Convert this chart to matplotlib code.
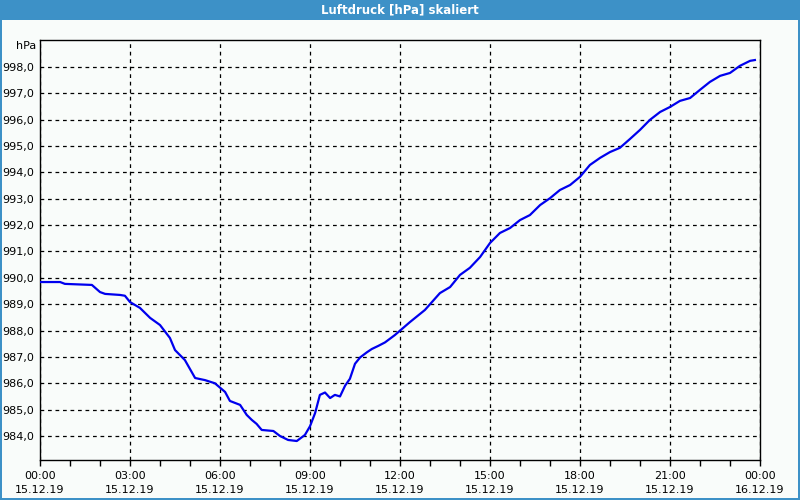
import matplotlib
matplotlib.use("Agg")
import matplotlib.pyplot as plt
from matplotlib.patches import Rectangle

# Time in hours since 15.12.19 00:00
hours = [0.0, 0.67, 0.83, 1.73, 2.0, 2.17, 2.67, 2.83, 3.0, 3.33, 3.67, 4.0, 4.33, 4.5,
         4.83, 5.17, 5.5, 5.83, 6.17, 6.33, 6.67, 6.89, 7.06, 7.22, 7.39, 7.78, 8.0,
         8.27, 8.56, 8.83, 9.0, 9.17, 9.33, 9.5, 9.67, 9.83, 10.0, 10.17, 10.33, 10.5,
         10.67, 10.89, 11.06, 11.28, 11.5, 11.83, 12.33, 12.83, 13.33, 13.67, 14.0,
         14.33, 14.67, 15.0, 15.33, 15.67, 16.0, 16.33, 16.67, 17.0, 17.33, 17.67,
         18.0, 18.33, 18.67, 19.0, 19.33, 19.67, 20.0, 20.33, 20.67, 21.0, 21.33,
         21.67, 22.0, 22.33, 22.67, 23.0, 23.33, 23.67, 23.83]
pressure = [989.84, 989.84, 989.77, 989.73, 989.46, 989.39, 989.35, 989.32, 989.08,
            988.86, 988.48, 988.21, 987.72, 987.26, 986.88, 986.20, 986.12, 986.00,
            985.67, 985.33, 985.18, 984.80, 984.61, 984.46, 984.23, 984.19, 984.00,
            983.85, 983.81, 984.04, 984.37, 984.87, 985.56, 985.65, 985.44, 985.56,
            985.50, 985.91, 986.17, 986.74, 986.98, 987.17, 987.30, 987.42, 987.55,
            987.83, 988.32, 988.78, 989.42, 989.65, 990.11, 990.38, 990.79, 991.32,
            991.70, 991.89, 992.19, 992.38, 992.76, 993.02, 993.33, 993.52, 993.83,
            994.28, 994.55, 994.77, 994.93, 995.27, 995.61, 995.99, 996.29, 996.48,
            996.71, 996.82, 997.13, 997.43, 997.66, 997.77, 998.04, 998.23, 998.26]

x_major = [0, 3, 6, 9, 12, 15, 18, 21, 24]
x_labels = ["00:00\n15.12.19", "03:00\n15.12.19", "06:00\n15.12.19", "09:00\n15.12.19",
            "12:00\n15.12.19", "15:00\n15.12.19", "18:00\n15.12.19", "21:00\n15.12.19",
            "00:00\n16.12.19"]
y_major = [984, 985, 986, 987, 988, 989, 990, 991, 992, 993, 994, 995, 996, 997, 998]
y_labels = [f"{v},0" for v in y_major]
title = "Luftdruck [hPa] skaliert"
unit = "hPa"

W, H = 800, 500
bg = "#f9fcfa"
blue_bar = "#3d91c7"

fig = plt.figure(figsize=(W / 100, H / 100), dpi=100, facecolor=bg)

# title bar and frame
fig.add_artist(Rectangle((0, (H - 20) / H), 1, 20 / H, transform=fig.transFigure,
                         facecolor=blue_bar, edgecolor="none", zorder=0))
fig.add_artist(Rectangle((0, 0), 2 / W, 1, transform=fig.transFigure,
                         facecolor=blue_bar, edgecolor="none"))
fig.add_artist(Rectangle((1 - 2 / W, 0), 2 / W, 1, transform=fig.transFigure,
                         facecolor=blue_bar, edgecolor="none"))
fig.add_artist(Rectangle((0, 0), 1, 2 / H, transform=fig.transFigure,
                         facecolor=blue_bar, edgecolor="none"))
fig.text(0.5, (H - 10) / H, title, color="white", fontsize=8.5, fontweight="bold",
         ha="center", va="center")

ax = fig.add_axes([40 / W, (H - 460) / H, 720 / W, 420 / H])
ax.set_facecolor(bg)
ax.plot(hours, pressure, color="#0000ee", lw=1.6, zorder=3)

ax.set_xlim(0, 24)
ax.set_ylim(983.09, 999.02)
ax.set_xticks(x_major)
ax.set_xticklabels(x_labels, fontsize=8, linespacing=1.45)
ax.set_xticks(range(0, 25), minor=True)
ax.set_yticks(y_major)
ax.set_yticklabels(y_labels, fontsize=8)
ax.tick_params(axis="x", which="both", direction="out", length=4, width=1, pad=4)
ax.tick_params(axis="y", length=0, pad=4)
ax.grid(True, which="major", color="black", linestyle=(0, (3, 3)), linewidth=0.9)
for s in ax.spines.values():
    s.set_color("black")
    s.set_linewidth(1.0)

fig.text(36 / W, (H - 46) / H, unit, fontsize=8, ha="right", va="center")

fig.savefig("out.png", dpi=100, facecolor=bg)
